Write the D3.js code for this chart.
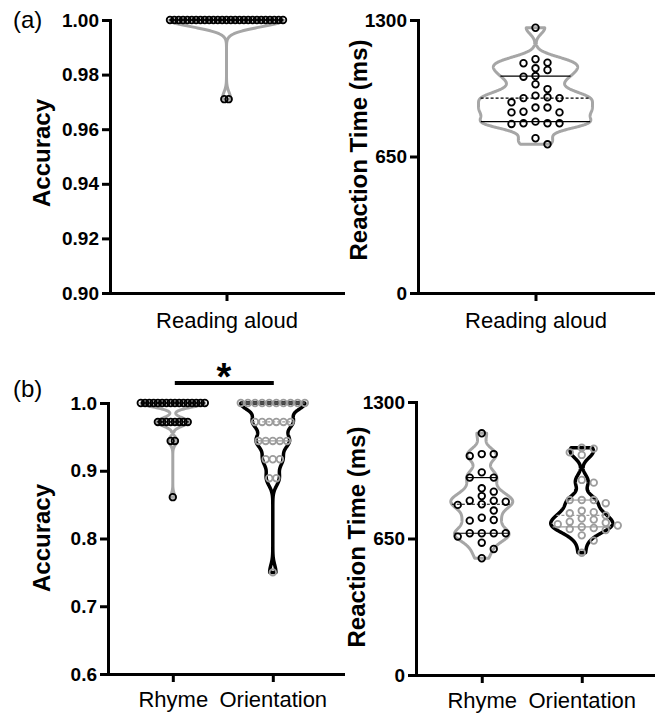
<!DOCTYPE html>
<html><head><meta charset="utf-8">
<script src="https://cdn.jsdelivr.net/npm/d3@7"></script>
<style>
body{margin:0;background:#fff}
svg{display:block}
text{font-family:"Liberation Sans",Arial,Helvetica,sans-serif}
</style>
</head><body>
<svg id="chart" width="656" height="714"></svg>
<script>
// ---------------- data ----------------
const readingCategory = ["Reading aloud"];
const taskCategories = ["Rhyme", "Orientation"];

const readingAccuracy = [1.00,1.00,1.00,1.00,1.00,1.00,1.00,1.00,1.00,1.00,1.00,1.00,1.00,1.00,1.00,1.00,1.00,1.00,1.00,1.00,1.00,1.00,1.00,1.00,1.00,1.00,1.00,0.971,0.971];
const readingRT = [1263,1113,1097,1094,1070,1062,1033,1030,994,971,940,932,928,928,908,883,883,863,860,860,816,808,808,808,805,737,708];

const rhymeAccuracy = [1.00,1.00,1.00,1.00,1.00,1.00,1.00,1.00,1.00,1.00,1.00,1.00,1.00,1.00,1.00,1.00,0.972,0.972,0.972,0.972,0.972,0.972,0.972,0.972,0.944,0.944,0.861];
const orientationAccuracy = [1.00,1.00,1.00,1.00,1.00,1.00,1.00,1.00,1.00,1.00,0.972,0.972,0.972,0.972,0.972,0.972,0.944,0.944,0.944,0.944,0.944,0.917,0.917,0.917,0.889,0.889,0.75];

const rhymeRT = [1151,1052,1052,1043,965,940,940,889,873,852,830,830,825,813,810,783,749,738,735,675,675,675,675,659,630,600,556];
const orientationRT = [1082,1078,1060,1048,929,916,833,833,833,818,782,775,770,760,745,740,730,725,718,712,705,700,695,690,665,640,582];

const accTicksA = [0.90,0.92,0.94,0.96,0.98,1.00];
const accTicksB = [0.6,0.7,0.8,0.9,1.0];
const rtTicks = [0,650,1300];

// ---------------- styles ----------------
const GRAY = "#a6a6a6", DOTGRAY = "#9c9c9c", BLACK = "#000";
const FONT = '"Liberation Sans",Arial,Helvetica,sans-serif';
const svg = d3.select("#chart");

function quantileP(sorted, p){
  const n = sorted.length, pos = (n + 1) * p;
  if (pos <= 1) return sorted[0];
  if (pos >= n) return sorted[n - 1];
  const lo = Math.floor(pos), f = pos - lo;
  return sorted[lo - 1] + f * (sorted[lo] - sorted[lo - 1]);
}

function drawPanel(cfg){
  const y = d3.scaleLinear().domain(cfg.domain).range([cfg.yBot, cfg.yTop]);
  const x = d3.scalePoint().domain(cfg.cats).range([cfg.x0, cfg.x1]).padding(cfg.pad).align(cfg.align);
  const g = svg.append("g");

  cfg.series.forEach((s, i) => {
    const vals = s.values.slice().sort((a, b) => a - b);
    const cx = x(cfg.cats[i]);
    const lo = vals[0], hi = vals[vals.length - 1];
    const dens = v => d3.sum(vals, xi => Math.exp(-0.5 * ((v - xi) / s.bw) ** 2));
    const N = 300;
    const grid = d3.range(N + 1).map(k => lo + (hi - lo) * k / N);
    const dvals = grid.map(dens);
    const wScale = d3.scaleLinear().domain([0, d3.max(dvals)]).range([0, cfg.maxHalf]);
    const pts = grid.map((v, k) => ({v, w: wScale(dvals[k])}));
    const area = d3.area().y(d => y(d.v)).x0(d => cx - d.w).x1(d => cx + d.w);
    g.append("path").attr("d", area(pts))
      .attr("fill", "none").attr("stroke", s.violinColor)
      .attr("stroke-width", s.violinWidth).attr("stroke-linejoin", "round");

    [0.25, 0.5, 0.75].forEach(p => {
      const q = quantileP(vals, p);
      const w = wScale(dens(q));
      g.append("line")
        .attr("x1", cx - w).attr("x2", cx + w)
        .attr("y1", y(q)).attr("y2", y(q))
        .attr("stroke", s.dotColor).attr("stroke-width", 1.2)
        .attr("stroke-dasharray", p === 0.5 ? "3,2" : null);
    });

    const placed = [];
    if (s.mode === "rows"){
      const groups = d3.groups(vals, v => v);
      const maxCount = d3.max(groups, gr => gr[1].length);
      const sp = Math.min(12, cfg.rowWidth / Math.max(1, maxCount - 1));
      groups.forEach(([v, arr]) => {
        arr.forEach((_, j) => placed.push({v, dx: (j - (arr.length - 1) / 2) * sp}));
      });
    } else {
      const order = vals.slice().sort((a, b) => b - a);
      const slots = [0, 1, -1, 2, -2, 3, -3, 4, -4];
      const used = [];
      order.forEach(v => {
        const py = y(v);
        let chosen = slots[slots.length - 1];
        for (const sl of slots){
          if (!used.some(u => u.sl === sl && Math.abs(u.py - py) < 7)){ chosen = sl; break; }
        }
        used.push({sl: chosen, py});
        placed.push({v, dx: chosen * 12});
      });
    }
    g.selectAll(null).data(placed).enter().append("circle")
      .attr("cx", d => cx + d.dx).attr("cy", d => y(d.v)).attr("r", 3.3)
      .attr("fill", "none").attr("stroke", s.dotColor).attr("stroke-width", 1.8);
  });

  const ya = g.append("g").attr("transform", `translate(${cfg.x0},0)`)
    .call(d3.axisLeft(y).tickValues(cfg.ticks).tickFormat(d3.format(cfg.fmt))
      .tickSize(8).tickSizeOuter(0).tickPadding(3));
  const xa = g.append("g").attr("transform", `translate(0,${cfg.yBot})`)
    .call(d3.axisBottom(x).tickSize(8).tickSizeOuter(0).tickPadding(cfg.xPad));
  [ya, xa].forEach(a => {
    a.select(".domain").attr("stroke", BLACK).attr("stroke-width", 3).attr("stroke-linecap", "square");
    a.selectAll(".tick line").attr("stroke", BLACK).attr("stroke-width", 3);
  });
  ya.selectAll(".tick text").attr("font-family", FONT).attr("font-size", 19).attr("font-weight", "bold").attr("fill", BLACK);
  xa.selectAll(".tick text").attr("font-family", FONT).attr("font-size", 22).attr("fill", BLACK);

  g.append("text")
    .attr("transform", `translate(${cfg.titleX},${cfg.titleY}) rotate(-90)`)
    .attr("text-anchor", "middle").attr("font-family", FONT)
    .attr("font-size", 24).attr("font-weight", "bold").text(cfg.title);
  return {x, y, g};
}

drawPanel({x0:110, x1:343, yTop:20, yBot:293, domain:[0.90,1.00], ticks:accTicksA, fmt:".2f",
  cats:readingCategory, pad:0.5, align:0.5, xPad:11.5, maxHalf:57, rowWidth:113,
  title:"Accuracy", titleX:50, titleY:153,
  series:[{values:readingAccuracy, bw:0.0025, mode:"rows", violinColor:GRAY, violinWidth:3, dotColor:BLACK}]});

drawPanel({x0:418, x1:653, yTop:20, yBot:293, domain:[0,1300], ticks:rtTicks, fmt:"d",
  cats:readingCategory, pad:0.5, align:0.5, xPad:11.5, maxHalf:57, rowWidth:113,
  title:"Reaction Time (ms)", titleX:367, titleY:150,
  series:[{values:readingRT, bw:29, mode:"swarm", violinColor:GRAY, violinWidth:3, dotColor:BLACK}]});

const pb = drawPanel({x0:108, x1:343, yTop:403, yBot:674, domain:[0.6,1.0], ticks:accTicksB, fmt:".1f",
  cats:taskCategories, pad:0.675, align:0.48, xPad:9.5, maxHalf:32, rowWidth:64,
  title:"Accuracy", titleX:50, titleY:538,
  series:[
    {values:rhymeAccuracy, bw:0.006, mode:"rows", violinColor:GRAY, violinWidth:3, dotColor:BLACK},
    {values:orientationAccuracy, bw:0.011, mode:"rows", violinColor:BLACK, violinWidth:3.5, dotColor:DOTGRAY}]});

drawPanel({x0:416, x1:653, yTop:402, yBot:675, domain:[0,1300], ticks:rtTicks, fmt:"d",
  cats:taskCategories, pad:0.685, align:0.48, xPad:9, maxHalf:31, rowWidth:64,
  title:"Reaction Time (ms)", titleX:365, titleY:537,
  series:[
    {values:rhymeRT, bw:32, mode:"swarm", violinColor:GRAY, violinWidth:3, dotColor:BLACK},
    {values:orientationRT, bw:30, mode:"swarm", violinColor:BLACK, violinWidth:3.5, dotColor:DOTGRAY}]});

svg.append("line")
  .attr("x1", pb.x("Rhyme") + 2).attr("x2", pb.x("Orientation") + 1)
  .attr("y1", 383).attr("y2", 383).attr("stroke", BLACK).attr("stroke-width", 4);
svg.append("text").attr("x", (pb.x("Rhyme") + pb.x("Orientation")) / 2 + 1).attr("y", 390)
  .attr("text-anchor", "middle").attr("font-family", FONT).attr("font-size", 38)
  .attr("font-weight", "bold").text("*");

svg.append("text").attr("x", 13).attr("y", 28).attr("font-family", FONT).attr("font-size", 24).text("(a)");
svg.append("text").attr("x", 13).attr("y", 397).attr("font-family", FONT).attr("font-size", 24).text("(b)");
</script>
</body></html>
